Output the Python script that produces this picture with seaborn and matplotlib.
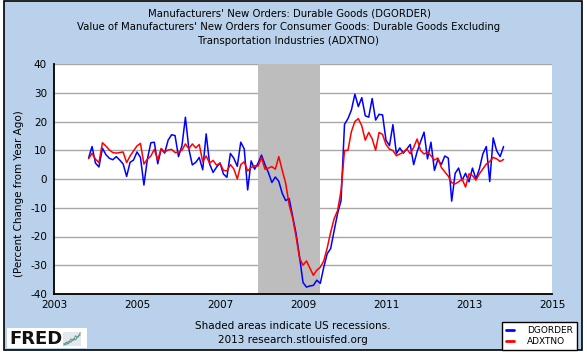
import numpy as np
import pandas as pd
import matplotlib
matplotlib.use("Agg")
import matplotlib.pyplot as plt
from matplotlib.patches import Rectangle
from matplotlib.lines import Line2D
import seaborn as sns

# ---------------- data (percent change from year ago, monthly from Nov 2003) -------------
start_month = "2003-11-01"
dgorder = [7.3, 11.3, 5.5, 4.2, 10.7, 8.5, 7.2, 6.7, 7.8, 6.6,
           5.2, 0.9, 5.8, 6.6, 9.4, 7.5, -2.1, 6.9, 12.6, 12.8,
           5.3, 10.5, 9.0, 13.5, 15.4, 15.1, 7.8, 11.6, 21.5, 10.4,
           4.9, 5.8, 7.5, 3.2, 15.7, 5.2, 2.3, 4.1, 5.6, 1.7,
           0.6, 8.9, 7.2, 4.4, 12.8, 10.5, -3.8, 6.3, 3.4, 5.5,
           8.3, 5.0, 2.2, -1.2, 0.7, -0.8, -5.0, -7.5, -6.8, -13.0,
           -19.0, -27.0, -36.0, -37.6, -37.2, -37.0, -35.2, -36.3, -30.7, -26.0,
           -24.2, -18.0, -12.0, -7.5, 19.0, 21.0, 24.0, 29.5, 25.2, 28.3,
           22.0, 21.5, 28.0, 20.5, 22.5, 22.3, 13.5, 11.6, 18.9, 8.8,
           10.8, 9.0, 10.4, 12.0, 5.0, 9.5, 13.0, 16.3, 7.0, 12.8,
           3.0, 6.8, 5.0, 8.0, 7.3, -7.7, 2.0, 3.8, -0.5, 2.0,
           -1.0, 3.8, 0.0, 3.5, 8.7, 11.3, -0.9, 14.3, 9.8, 7.8,
           11.3]
adxtno = [7.1, 8.9, 6.9, 5.7, 12.6, 11.5, 10.1, 9.2, 9.0, 9.2,
          9.4, 5.7, 8.0, 9.8, 11.5, 12.4, 5.2, 6.9, 8.0, 10.3,
          6.6, 10.6, 9.4, 10.1, 10.3, 9.2, 9.3, 10.0, 12.2, 10.5,
          12.2, 10.8, 12.0, 6.0, 8.0, 5.5, 6.5, 4.8, 5.5, 3.0,
          2.8, 5.0, 3.5, 0.0, 5.0, 6.0, 2.8, 4.0, 4.6, 4.5,
          7.5, 3.4, 3.8, 4.3, 3.4, 7.8, 3.0, -1.5, -9.0, -13.5,
          -20.0, -27.5, -30.0, -28.5, -31.0, -33.5, -31.7, -30.7, -28.5, -24.0,
          -18.5, -13.8, -11.0, -4.0, 9.9, 10.0, 16.5, 20.0, 21.0, 18.5,
          13.5, 16.2, 14.0, 10.0, 16.2, 15.5, 12.0, 10.4, 9.9, 8.1,
          8.7, 9.3, 10.5, 8.8, 11.0, 13.9, 9.9, 8.7, 9.3, 8.1,
          6.6, 7.3, 4.0, 2.5, 1.0, -1.3, -1.7, -1.0, 0.0, -2.8,
          1.8, 1.2, -0.4, 1.8, 3.5, 5.2, 6.1, 7.5, 7.0, 6.1,
          6.8]
series_names = ["DGORDER", "ADXTNO"]
series_colors = ["#0000ff", "#ff0000"]
recession = [2007 + 11 / 12, 2009 + 5 / 12]
x_ticks = [2003, 2005, 2007, 2009, 2011, 2013, 2015]
y_ticks = [-40, -30, -20, -10, 0, 10, 20, 30, 40]
title_lines = ["Manufacturers' New Orders: Durable Goods (DGORDER)",
               "Value of Manufacturers' New Orders for Consumer Goods: Durable Goods Excluding",
               "Transportation Industries (ADXTNO)"]
y_label = "(Percent Change from Year Ago)"
footer_lines = ["Shaded areas indicate US recessions.", "2013 research.stlouisfed.org"]
icon_green = [0.1, 0.3, 0.2, 0.5, 0.4, 0.7, 0.6, 0.9]
icon_blue = [0.2, 0.15, 0.35, 0.3, 0.5, 0.45, 0.65, 0.75]

# ---------------- build table -------------
dates = pd.date_range(start_month, periods=len(dgorder), freq="MS")
years = dates.year + (dates.month - 1) / 12.0
df = pd.concat([
    pd.DataFrame({"year": years, "value": dgorder, "series": series_names[0]}),
    pd.DataFrame({"year": years, "value": adxtno, "series": series_names[1]}),
], ignore_index=True)

# ---------------- figure -------------
BG = "#b9d1ea"
sns.set_style("white")
plt.rcParams["font.family"] = ["DejaVu Sans"]
plt.rcParams["text.color"] = "black"
fig = plt.figure(figsize=(5.87, 3.58), dpi=100, facecolor="white")
W, H = 587, 358
fig.patches.append(Rectangle((4 / W, 1 - 350 / H), 578 / W, 349 / H, transform=fig.transFigure,
                             facecolor=BG, edgecolor="black", linewidth=1.2, zorder=-5))

ax = fig.add_axes([54 / W, 1 - 294 / H, 498 / W, 230 / H])
ax.set_zorder(2)
ax.set_facecolor("white")
ax.set_axisbelow(True)
ax.yaxis.grid(True, color="#a8a8a8", linewidth=1.0)
ax.xaxis.grid(False)
ax.axvspan(recession[0], recession[1], color="#bdbdbd", zorder=1, linewidth=0)

sns.lineplot(data=df, x="year", y="value", hue="series", hue_order=series_names,
             palette=dict(zip(series_names, series_colors)), ax=ax, legend=False,
             linewidth=1.1, zorder=3)

ax.set_xlim(2003, 2015)
ax.set_ylim(-40, 40)
ax.set_xticks(x_ticks)
ax.set_xticklabels([str(t) for t in x_ticks])
ax.set_yticks(y_ticks)
ax.set_yticklabels([str(t) for t in y_ticks])
ax.tick_params(axis="y", direction="out", length=4, width=1, labelsize=7.5, pad=1, colors="black")
ax.tick_params(axis="x", direction="in", length=5, width=1, labelsize=7.5, pad=4, colors="black")
ax.set_xlabel("")
ax.set_ylabel("")
for s in ["top", "right"]:
    ax.spines[s].set_visible(False)
for s in ["left", "bottom"]:
    ax.spines[s].set_color("black")
    ax.spines[s].set_linewidth(1.3)
    ax.spines[s].set_zorder(4)

# titles
for i, line in enumerate(title_lines):
    fig.text(289 / W, 1 - (14 + 13.5 * i) / H, line, ha="center", va="center", fontsize=7.3,
             color="black")
fig.text(19 / W, 1 - 194 / H, y_label, rotation=90, ha="center", va="center", fontsize=7.5,
         color="black")
for i, line in enumerate(footer_lines):
    fig.text(293 / W, 1 - (326 + 14 * i) / H, line, ha="center", va="center", fontsize=7.5,
             color="black")

# legend
handles = [Line2D([], [], color=c, linewidth=2) for c in series_colors]
leg = fig.legend(handles, series_names, loc="upper left", bbox_to_anchor=(502 / W, 1 - 322 / H),
                 fontsize=6.5, frameon=True, fancybox=False, handlelength=0.9, handletextpad=1.4,
                 borderpad=0.45, labelspacing=0.25, borderaxespad=0)
leg.get_frame().set_edgecolor("black")
leg.get_frame().set_linewidth(1.0)
leg.get_frame().set_facecolor("white")
leg.get_frame().set_alpha(1.0)
for t in leg.get_texts():
    t.set_color("black")

# FRED logo
fig.patches.append(Rectangle((7 / W, 1 - 348 / H), 80 / W, 20 / H, transform=fig.transFigure,
                             facecolor="white", edgecolor="none", zorder=1))
fig.text(9 / W, 1 - 339 / H, "FRED", fontsize=13, fontweight="heavy", ha="left", va="center",
         color="#111111", zorder=3)
iax = fig.add_axes([63 / W, 1 - 346 / H, 18 / W, 14 / H])
iax.set_zorder(3)
iax.set_facecolor("#e4e8ee")
iax.plot(range(len(icon_green)), icon_green, color="#6aa84f", linewidth=0.8)
iax.plot(range(len(icon_blue)), icon_blue, color="#5b8fd0", linewidth=0.8)
iax.set_xticks([]); iax.set_yticks([])
for s in iax.spines.values():
    s.set_visible(False)

fig.savefig("out.png", dpi=100, facecolor="white")
